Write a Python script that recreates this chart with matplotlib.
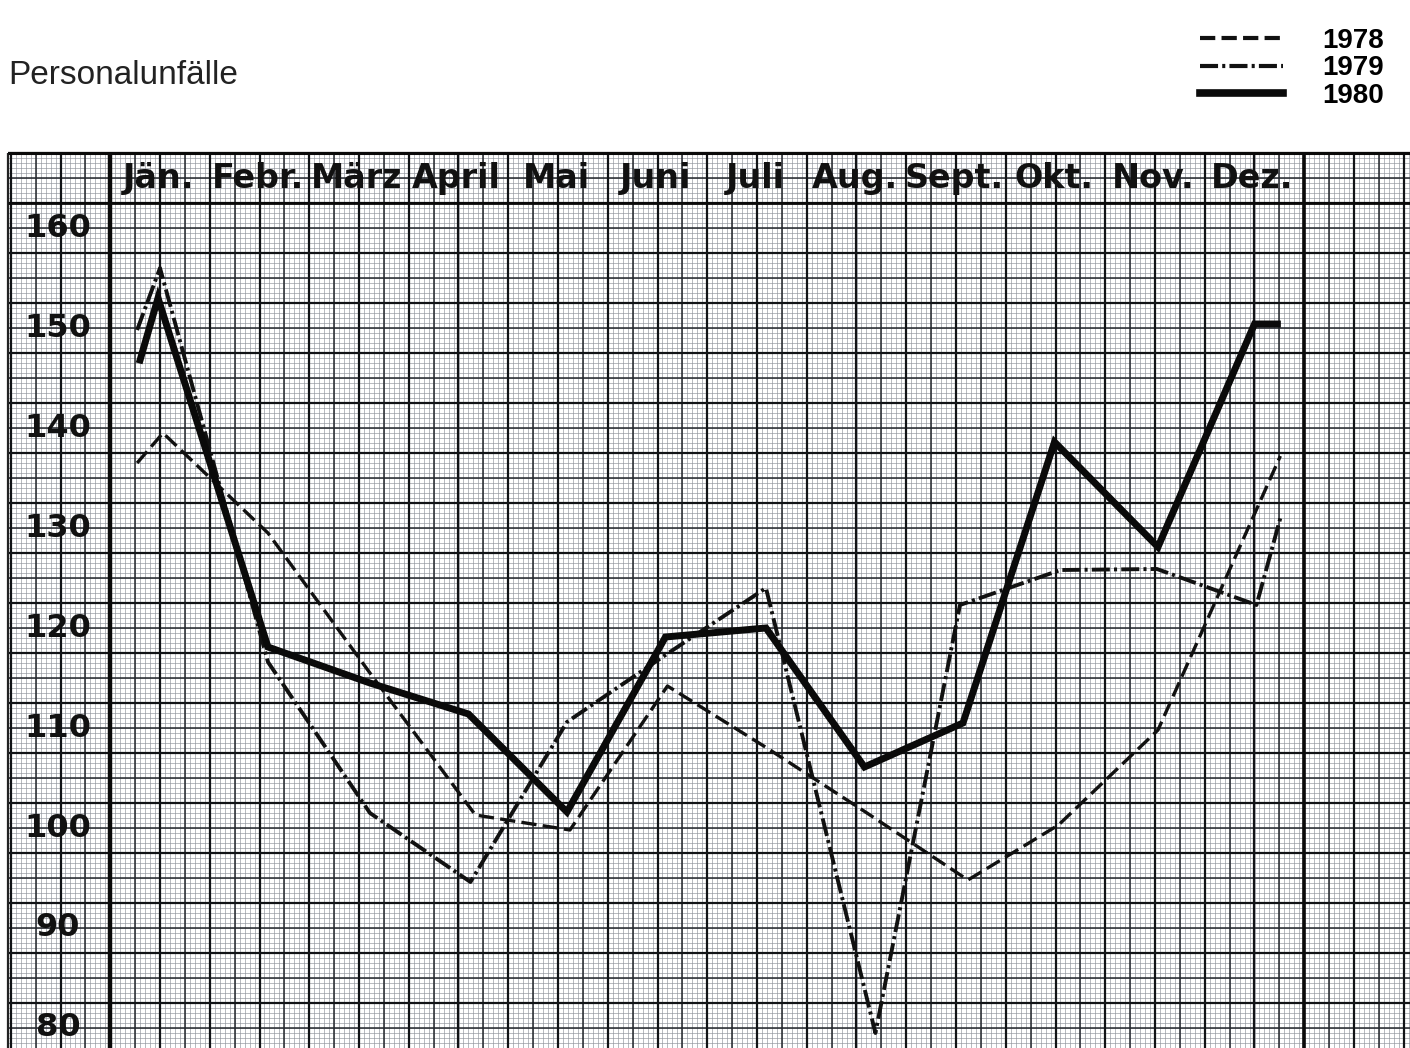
import numpy as np
import matplotlib
matplotlib.use("Agg")
import matplotlib.pyplot as plt

plt.rcParams['lines.scale_dashes'] = False

# ---------------- data ----------------
months = ["Jän.", "Febr.", "März", "April", "Mai", "Juni", "Juli",
          "Aug.", "Sept.", "Okt.", "Nov.", "Dez."]
y_ticks = [160, 150, 140, 130, 120, 110, 100, 90, 80]

# hand-drawn month positions (0 = Jän.), with short
# lead-in / lead-out strokes
x_1978 = [-0.23, 0.03, 1.085, 2.11, 3.17, 4.12, 5.10, 6.10, 7.09, 8.12,
          9.03, 10.03, 11.26]
v_1978 = [136.5, 139.5, 129.5, 115.5, 101.3, 99.8, 114.2, 108.0, 101.6,
          94.8, 100.3, 109.8, 137.2]

x_1979 = [-0.23, 0.0, 1.085, 2.11, 3.12, 4.09, 5.08, 6.09, 7.19, 8.04,
          9.05, 10.02, 11.02, 11.26]
v_1979 = [149.8, 156.0, 116.6, 101.5, 94.6, 110.6, 117.3, 124.0, 79.5,
          122.3, 125.8, 125.9, 122.3, 131.0]

x_1980 = [-0.20, -0.02, 1.085, 2.11, 3.10, 4.09, 5.08, 6.09, 7.08, 8.07,
          8.99, 10.03, 11.0, 11.23]
v_1980 = [146.8, 153.0, 118.1, 114.5, 111.4, 101.6, 119.1, 120.0, 106.1,
          110.5, 138.6, 128.1, 150.4, 150.4]

labels = ["1978", "1979", "1980"]

# ---------------- figure ----------------
W, H = 1410, 1048
fig = plt.figure(figsize=(W / 100, H / 100), dpi=100)
ax = fig.add_axes([0, 0, 1, 1])
ax.set_axis_off()
X0, X1 = -160 / 99.5, (W - 160) / 99.5
Y0, Y1 = 160 - (H - 228) / 10, 160 + 228 / 10
ax.set_xlim(X0, X1)
ax.set_ylim(Y0, Y1)

# graph paper
px_left = (8 - 160) / 99.5
top = 167.5
fine_x = np.arange(-1.5, X1 + 0.01, 0.05)
fine_y = np.arange(78.0, top + 0.01, 0.5)
ax.vlines(fine_x, Y0, top, colors="#8f939b", linewidth=0.45, zorder=1)
ax.hlines(fine_y, px_left, X1, colors="#8f939b", linewidth=0.45, zorder=1)
med_x = np.arange(-1.5, X1 + 0.01, 0.25)
med_y = np.arange(80.0, top + 0.01, 2.5)
ax.vlines(med_x, Y0, top, colors="#25282e", linewidth=1.1, zorder=2)
ax.hlines(med_y, px_left, X1, colors="#25282e", linewidth=1.1, zorder=2)
thick_x = np.arange(-1.5, X1 + 0.01, 0.5)
thick_y = np.arange(82.5, top + 0.01, 5.0)
ax.vlines(thick_x, Y0, top, colors="#111316", linewidth=1.6, zorder=2)
ax.hlines(thick_y, px_left, X1, colors="#111316", linewidth=1.6, zorder=2)
ax.vlines([-0.5], Y0, top, colors="#0a0a0a", linewidth=3.2, zorder=3)
ax.vlines([11.5], Y0, top, colors="#0a0a0a", linewidth=2.6, zorder=3)
ax.vlines([px_left], Y0, top, colors="#222", linewidth=1.6, zorder=3)
ax.hlines([top], px_left, X1, colors="#0a0a0a", linewidth=2.2, zorder=3)
ax.hlines([162.5], px_left, X1, colors="#0a0a0a", linewidth=2.0, zorder=3)

# data lines
l78, = ax.plot(x_1978, v_1978, color="#111111", linewidth=2.4,
               dashes=(11, 4.5), label=labels[0], zorder=5)
l79, = ax.plot(x_1979, v_1979, color="#111111", linewidth=2.8,
               dashes=(13, 3, 2.2, 3), label=labels[1], zorder=5)
l80, = ax.plot(x_1980, v_1980, color="#0a0a0a", linewidth=5.0,
               solid_joinstyle="miter", label=labels[2], zorder=6)

# month labels
for i, m in enumerate(months):
    ax.text(i - 0.02, 165.0, m, ha="center", va="center", fontsize=24,
            fontweight="bold", family="DejaVu Sans", color="#111", zorder=7)

# y labels
for v in y_ticks:
    ax.text((58 - 160) / 99.5, v, str(v), ha="center", va="center",
            fontsize=23, fontweight="bold", family="DejaVu Sans",
            color="#111", zorder=7)

# title
fig.text(8 / W, 1 - 75 / H, "Personalunfälle", ha="left", va="center",
         fontsize=24, family="Liberation Sans", color="#222")

# legend
leg = fig.legend(handles=[l78, l79, l80], loc="upper right",
                 bbox_to_anchor=(1398 / W, 1 - 14 / H), frameon=False,
                 prop={"family": "Liberation Sans", "weight": "bold", "size": 20},
                 handlelength=3.0, handletextpad=1.4, labelspacing=0.05,
                 borderpad=0.0)
for ln, lw in zip(leg.get_lines(), [3.0, 3.0, 5.5]):
    ln.set_linewidth(lw)

fig.savefig("out.png", dpi=100)
